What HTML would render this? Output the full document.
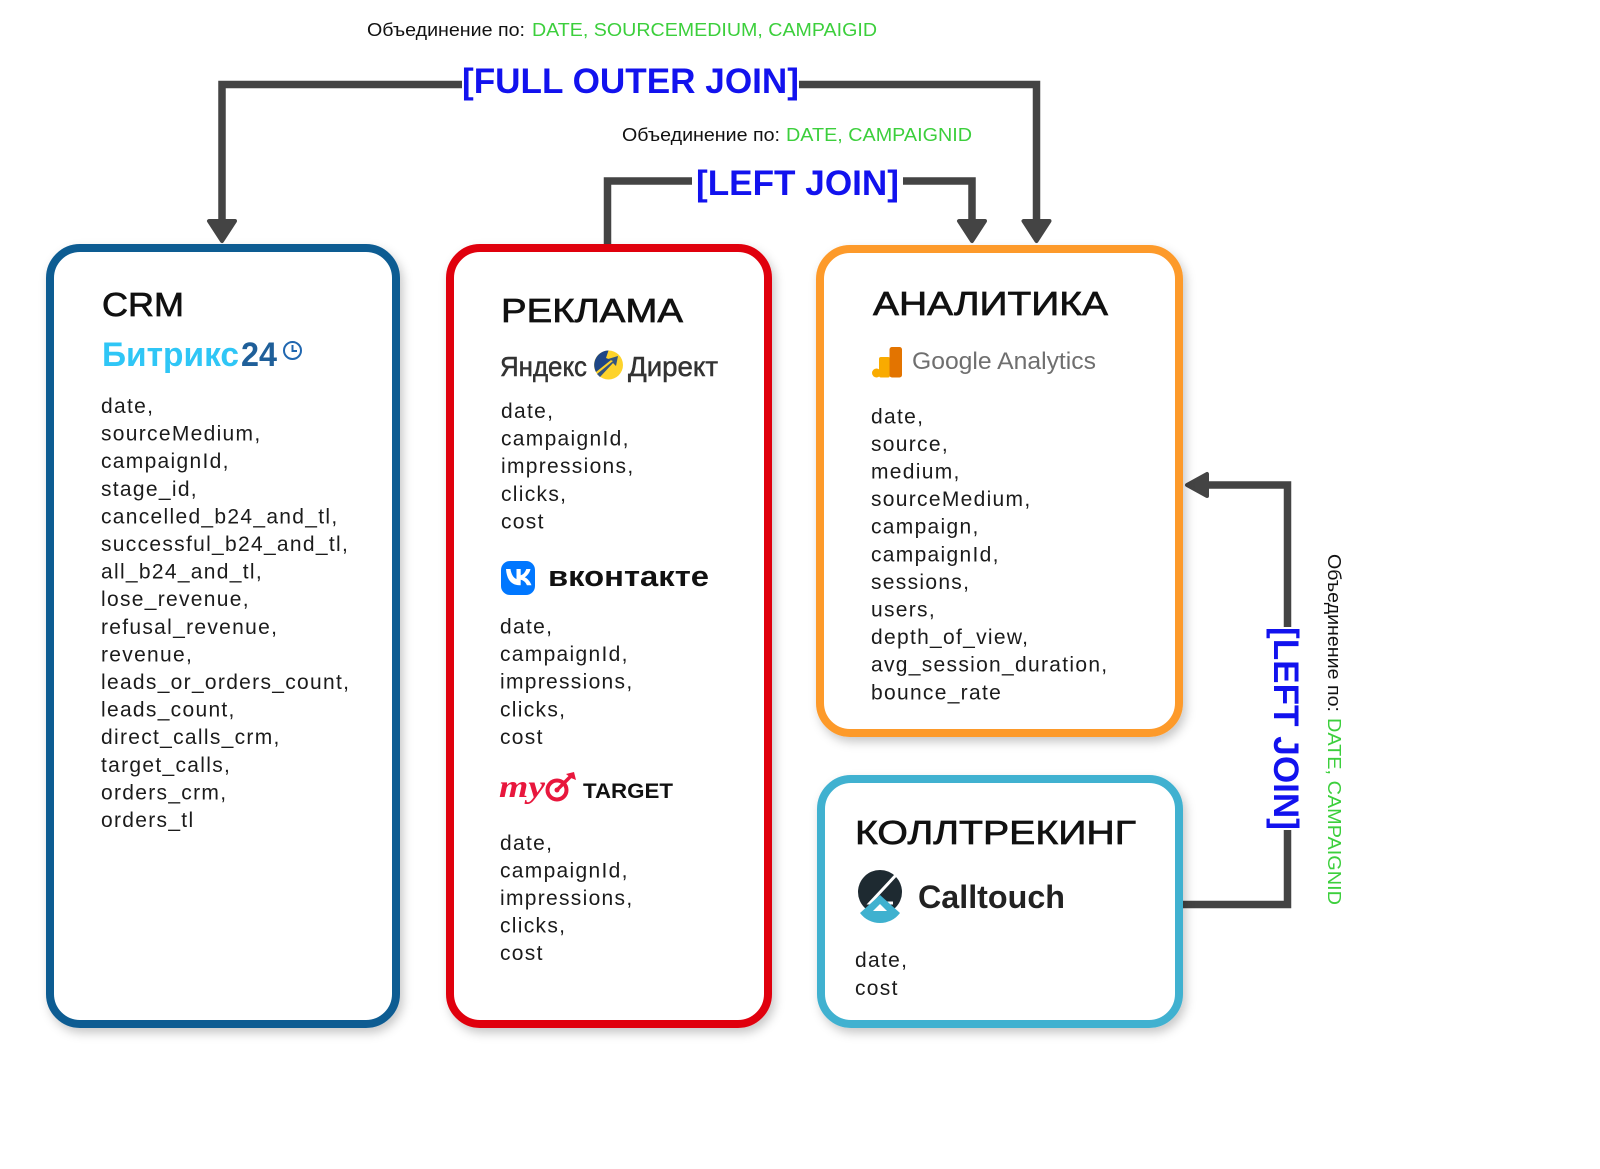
<!DOCTYPE html>
<html><head><meta charset="utf-8"><style>
html,body{margin:0;padding:0;background:#fff;}
svg{display:block;}
.l{font-family:"Liberation Sans","DejaVu Sans",sans-serif;font-size:21px;letter-spacing:1.3px;fill:#1b1b1b;}
.t{font-family:"Liberation Sans","DejaVu Sans",sans-serif;font-size:33px;fill:#111;stroke:#111;stroke-width:0.7px;}
.j{font-family:"Liberation Sans","DejaVu Sans",sans-serif;font-size:35px;font-weight:bold;fill:#1212ee;}
.o{font-family:"Liberation Sans","DejaVu Sans",sans-serif;font-size:18px;fill:#111;}
.g{font-family:"Liberation Sans","DejaVu Sans",sans-serif;font-size:18px;fill:#3ccf3c;}
</style></head><body>
<svg width="1600" height="1169" viewBox="0 0 1600 1169" xmlns="http://www.w3.org/2000/svg">
<defs>
<filter id="sh" x="-10%" y="-10%" width="125%" height="125%">
<feDropShadow dx="3" dy="5" stdDeviation="5" flood-color="#000" flood-opacity="0.22"/>
</filter>
</defs>
<rect width="1600" height="1169" fill="#fff"/>

<!-- connectors -->
<g stroke="#444" stroke-width="7.5" fill="none" stroke-linejoin="miter">
<polyline points="222,221 222,84.5 462,84.5"/>
<polyline points="799,84.5 1036.5,84.5 1036.5,221"/>
<polyline points="607.5,248 607.5,181 692,181"/>
<polyline points="903,181 972,181 972,221"/>
<polyline points="1208,485 1287.5,485 1287.5,627"/>
<polyline points="1287.5,830 1287.5,904.5 1183,904.5"/>
</g>
<g fill="#444" stroke="#444" stroke-width="4" stroke-linejoin="round">
<polygon points="209,221 235,221 222,241"/>
<polygon points="1023.5,221 1049.5,221 1036.5,241"/>
<polygon points="959,221 985,221 972,241"/>
<polygon points="1207,474 1207,496 1187,485"/>
</g>

<!-- join labels -->
<text class="o" x="367" y="36" textLength="158" lengthAdjust="spacingAndGlyphs">Объединение по:</text>
<text class="g" x="532" y="36" textLength="345" lengthAdjust="spacingAndGlyphs">DATE, SOURCEMEDIUM, CAMPAIGID</text>
<text class="j" x="462" y="93" textLength="337" lengthAdjust="spacingAndGlyphs">[FULL OUTER JOIN]</text>

<text class="o" x="622" y="141" textLength="158" lengthAdjust="spacingAndGlyphs">Объединение по:</text>
<text class="g" x="786" y="141" textLength="186" lengthAdjust="spacingAndGlyphs">DATE, CAMPAIGNID</text>
<text class="j" x="696" y="195" textLength="203" lengthAdjust="spacingAndGlyphs">[LEFT JOIN]</text>

<text class="j" transform="translate(1274,627) rotate(90)" x="0" y="0" textLength="203" lengthAdjust="spacingAndGlyphs">[LEFT JOIN]</text>
<text class="o" transform="translate(1328,554) rotate(90)" x="0" y="0" textLength="158" lengthAdjust="spacingAndGlyphs">Объединение по:</text>
<text class="g" transform="translate(1328,718) rotate(90)" x="0" y="0" textLength="187" lengthAdjust="spacingAndGlyphs">DATE, CAMPAIGNID</text>

<!-- boxes -->
<g filter="url(#sh)" stroke-width="8" fill="#fff">
<rect x="50" y="248" width="346" height="776" rx="30" ry="30" stroke="#0b5b92"/>
<rect x="450" y="248" width="318" height="776" rx="30" ry="30" stroke="#e0060f"/>
<rect x="820" y="249" width="359" height="484" rx="30" ry="30" stroke="#fd9a2b"/>
<rect x="821" y="779" width="358" height="245" rx="30" ry="30" stroke="#40b1d0"/>
</g>

<!-- CRM -->
<text class="t" x="102" y="316" textLength="82" lengthAdjust="spacingAndGlyphs">CRM</text>
<text x="102" y="366" font-family="Liberation Sans, sans-serif" font-size="34" font-weight="bold" fill="#2fc6f6" textLength="137" lengthAdjust="spacingAndGlyphs">Битрикс</text>
<text x="241" y="366" font-family="Liberation Sans, sans-serif" font-size="34" font-weight="bold" fill="#1f5f99" textLength="36" lengthAdjust="spacingAndGlyphs">24</text>
<circle cx="292.5" cy="350.5" r="8.5" fill="none" stroke="#2067b0" stroke-width="2"/>
<path d="M292.5 345 V351 H297" fill="none" stroke="#2067b0" stroke-width="2"/>
<text class="l" x="101" y="413">
<tspan x="101" dy="0">date,</tspan>
<tspan x="101" dy="27.6">sourceMedium,</tspan>
<tspan x="101" dy="27.6">campaignId,</tspan>
<tspan x="101" dy="27.6">stage_id,</tspan>
<tspan x="101" dy="27.6">cancelled_b24_and_tl,</tspan>
<tspan x="101" dy="27.6">successful_b24_and_tl,</tspan>
<tspan x="101" dy="27.6">all_b24_and_tl,</tspan>
<tspan x="101" dy="27.6">lose_revenue,</tspan>
<tspan x="101" dy="27.6">refusal_revenue,</tspan>
<tspan x="101" dy="27.6">revenue,</tspan>
<tspan x="101" dy="27.6">leads_or_orders_count,</tspan>
<tspan x="101" dy="27.6">leads_count,</tspan>
<tspan x="101" dy="27.6">direct_calls_crm,</tspan>
<tspan x="101" dy="27.6">target_calls,</tspan>
<tspan x="101" dy="27.6">orders_crm,</tspan>
<tspan x="101" dy="27.6">orders_tl</tspan>
</text>

<!-- РЕКЛАМА -->
<text class="t" x="501" y="322" textLength="182" lengthAdjust="spacingAndGlyphs">РЕКЛАМА</text>
<text x="500" y="376" font-family="Liberation Sans, sans-serif" font-size="28" fill="#333" stroke="#333" stroke-width="0.5" textLength="87" lengthAdjust="spacingAndGlyphs">Яндекс</text>
<circle cx="608.5" cy="365" r="14.5" fill="#fdd32b"/>
<path d="M608.5 350.5 A14.5 14.5 0 0 0 596 372 L611 360 L606 358 Z" fill="#1e4686"/>
<path d="M597 374 L613 361 L608 359 L618 356 L616 366 L613 363 L600 377 Z" fill="#1e4686" opacity="0.9"/>
<text x="628" y="376" font-family="Liberation Sans, sans-serif" font-size="28" fill="#333" stroke="#333" stroke-width="0.5" textLength="90" lengthAdjust="spacingAndGlyphs">Директ</text>
<text class="l" x="501" y="418">
<tspan x="501" dy="0">date,</tspan>
<tspan x="501" dy="27.6">campaignId,</tspan>
<tspan x="501" dy="27.6">impressions,</tspan>
<tspan x="501" dy="27.6">clicks,</tspan>
<tspan x="501" dy="27.6">cost</tspan>
</text>

<rect x="501" y="561" width="34" height="34" rx="9" fill="#0077ff"/>
<path d="M506 569 h4.5 c0.6 5 3 9 6 10 v-10 h4.2 v6.2 c2.3 -0.3 4.6 -3 5.6 -6.2 h4.2 c-0.8 4 -3.6 7 -5.8 8.3 c2.3 1 5.2 3.6 6.8 8 h-4.6 c-1.2 -3 -3.6 -5.2 -6.2 -5.5 v5.5 h-1 c-8.2 0 -13 -5.6 -13.7 -16.3 z" fill="#fff"/>
<text x="548" y="586" font-family="Liberation Sans, sans-serif" font-size="29" font-weight="bold" fill="#111" textLength="161" lengthAdjust="spacingAndGlyphs">вконтакте</text>
<text class="l" x="500" y="633.5">
<tspan x="500" dy="0">date,</tspan>
<tspan x="500" dy="27.6">campaignId,</tspan>
<tspan x="500" dy="27.6">impressions,</tspan>
<tspan x="500" dy="27.6">clicks,</tspan>
<tspan x="500" dy="27.6">cost</tspan>
</text>

<text x="499" y="797" font-family="Liberation Serif, serif" font-size="32" font-style="italic" font-weight="bold" fill="#e8173d" textLength="46" lengthAdjust="spacingAndGlyphs">my</text>
<circle cx="557" cy="790" r="9.5" fill="none" stroke="#e8173d" stroke-width="4"/>
<circle cx="557" cy="790" r="2.5" fill="#e8173d"/>
<path d="M557 790 L572 775" stroke="#e8173d" stroke-width="3.5" fill="none"/>
<path d="M566 774 L574 772 L576 780 L571 778 Z" fill="#e8173d"/>
<text x="583" y="798" font-family="Liberation Sans, sans-serif" font-size="21" font-weight="bold" fill="#111" textLength="90" lengthAdjust="spacingAndGlyphs">TARGET</text>
<text class="l" x="500" y="849.8">
<tspan x="500" dy="0">date,</tspan>
<tspan x="500" dy="27.6">campaignId,</tspan>
<tspan x="500" dy="27.6">impressions,</tspan>
<tspan x="500" dy="27.6">clicks,</tspan>
<tspan x="500" dy="27.6">cost</tspan>
</text>

<!-- АНАЛИТИКА -->
<text class="t" x="873" y="315" textLength="235" lengthAdjust="spacingAndGlyphs">АНАЛИТИКА</text>
<circle cx="876.5" cy="373" r="4.5" fill="#f9ab00"/>
<rect x="879" y="357" width="11" height="20.5" rx="2" fill="#f9ab00"/>
<rect x="889.5" y="347" width="12.5" height="30.5" rx="2.5" fill="#e37400"/>
<text x="912" y="369" font-family="Liberation Sans, sans-serif" font-size="24" fill="#6f6f6f" textLength="184" lengthAdjust="spacingAndGlyphs">Google Analytics</text>
<text class="l" x="871" y="423.3">
<tspan x="871" dy="0">date,</tspan>
<tspan x="871" dy="27.6">source,</tspan>
<tspan x="871" dy="27.6">medium,</tspan>
<tspan x="871" dy="27.6">sourceMedium,</tspan>
<tspan x="871" dy="27.6">campaign,</tspan>
<tspan x="871" dy="27.6">campaignId,</tspan>
<tspan x="871" dy="27.6">sessions,</tspan>
<tspan x="871" dy="27.6">users,</tspan>
<tspan x="871" dy="27.6">depth_of_view,</tspan>
<tspan x="871" dy="27.6">avg_session_duration,</tspan>
<tspan x="871" dy="27.6">bounce_rate</tspan>
</text>

<!-- КОЛЛТРЕКИНГ -->
<text class="t" x="855" y="844" textLength="281" lengthAdjust="spacingAndGlyphs">КОЛЛТРЕКИНГ</text>
<circle cx="880" cy="892" r="22" fill="#1e2a31"/>
<path d="M897 874 L870 903 L893 903" fill="none" stroke="#fff" stroke-width="3"/>
<path d="M860 913 L880 895 L900 913 A25 25 0 0 1 860 913 Z" fill="#3fb1cf"/>
<path d="M880 904 L873 911 L887 911 Z" fill="#fff"/>
<text x="918" y="908" font-family="Liberation Sans, sans-serif" font-size="32" font-weight="bold" fill="#222" textLength="147" lengthAdjust="spacingAndGlyphs">Calltouch</text>
<text class="l" x="855" y="967.2">
<tspan x="855" dy="0">date,</tspan>
<tspan x="855" dy="27.6">cost</tspan>
</text>
</svg>
</body></html>
